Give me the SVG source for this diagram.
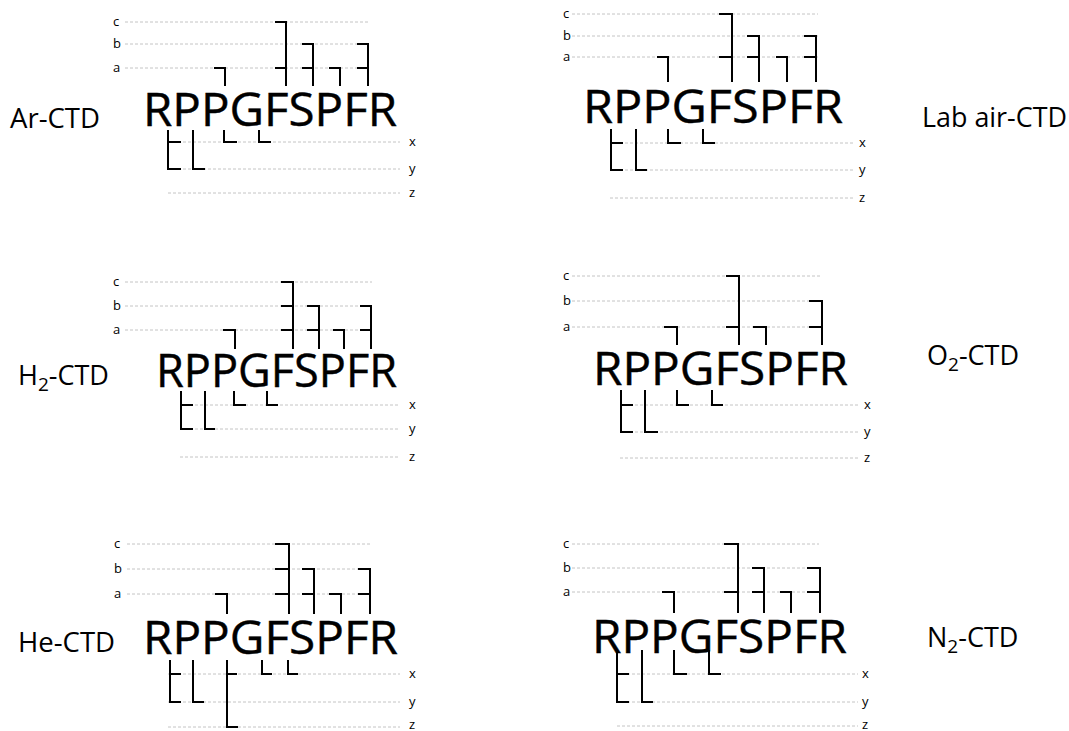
<svg xmlns="http://www.w3.org/2000/svg" width="1069" height="731" viewBox="0 0 1069 731">
<style>
.g{stroke:#c4c4c4;stroke-width:1;stroke-dasharray:3 2;fill:none}
.k{stroke:#000;stroke-width:2;fill:none}
text{font-family:"Open Sans","Liberation Sans",sans-serif;fill:#000}
.seq{font-size:45px;stroke:#000;stroke-width:0.4}
.lab{font-size:27px}
.sub{font-size:19px}
.s{font-size:13px;fill:#333}
</style>
<rect width="1069" height="731" fill="#fff"/>

<g id="ar">
  <g class="g"><path d="M125,22H370M125,44H370M125,68H370M168,142H400M168,169H400M168,193H400"/></g>
  <g class="s"><text x="113" y="26">c</text><text x="113" y="48">b</text><text x="113" y="72">a</text><text x="409" y="146">x</text><text x="409" y="173">y</text><text x="409" y="197">z</text></g>
  <text class="seq" x="143" y="126" textLength="254" lengthAdjust="spacingAndGlyphs">RPPGFSPFR</text>
  <g class="k"><path d="M214,68H225V86M275,22H286V86M275,68H286M302,44H313V86M302,68H313M329,68H340V86M357,44H368V86M357,68H368"/>
  <path d="M168,130V169H181M168,142H181M193,130V169H205M224,130V142H237M259,130V142H271"/></g>
  <text class="lab" x="10" y="128" textLength="90" lengthAdjust="spacingAndGlyphs">Ar-CTD</text>
</g>

<g id="labair">
  <g class="g"><path d="M572,14H818M572,36H818M572,57H818M610,143H853M610,170H853M610,198H853"/></g>
  <g class="s"><text x="563" y="18">c</text><text x="563" y="40">b</text><text x="563" y="61">a</text><text x="859" y="147">x</text><text x="859" y="174">y</text><text x="859" y="202">z</text></g>
  <text class="seq" x="583" y="123" textLength="260" lengthAdjust="spacingAndGlyphs">RPPGFSPFR</text>
  <g class="k"><path d="M657,57H668V82M719,14H732V82M719,57H732M747,36H759V82M747,57H759M776,57H787V82M804,36H816V82M804,57H816"/>
  <path d="M611,129V170H623M611,143H623M636,129V170H647M668,129V143H681M703,129V143H715"/></g>
  <text class="lab" x="922" y="127" textLength="145" lengthAdjust="spacingAndGlyphs">Lab air-CTD</text>
</g>

<g id="h2">
  <g class="g"><path d="M125,282H372M125,306H372M125,330H372M180,405H400M180,429H400M180,457H400"/></g>
  <g class="s"><text x="113" y="286">c</text><text x="113" y="310">b</text><text x="113" y="334">a</text><text x="409" y="409">x</text><text x="409" y="433">y</text><text x="409" y="461">z</text></g>
  <text class="seq" x="156" y="387" textLength="241" lengthAdjust="spacingAndGlyphs">RPPGFSPFR</text>
  <g class="k"><path d="M223,330H235V349M281,282H293V349M281,306H293M281,330H293M307,306H319V349M307,330H319M333,330H344V349M360,306H371V349M360,330H371"/>
  <path d="M181,391V429H193M181,405H193M205,391V429H215M234,391V405H246M267,391V405H278"/></g>
  <text class="lab" x="18" y="385">H<tspan class="sub" dy="6">2</tspan><tspan dy="-6">-CTD</tspan></text>
</g>

<g id="o2">
  <g class="g"><path d="M572,276H820M572,301H820M572,327H820M620,405H858M620,432H858M620,458H858"/></g>
  <g class="s"><text x="563" y="280">c</text><text x="563" y="305">b</text><text x="563" y="331">a</text><text x="864" y="409">x</text><text x="864" y="436">y</text><text x="864" y="462">z</text></g>
  <text class="seq" x="593" y="385" textLength="255" lengthAdjust="spacingAndGlyphs">RPPGFSPFR</text>
  <g class="k"><path d="M664,327H677V345M726,276H739V345M726,327H739M753,327H766V345M809,301H822V345M809,327H822"/>
  <path d="M621,390V432H633M621,405H633M645,390V432H658M677,390V405H689M712,390V405H723"/></g>
  <text class="lab" x="927" y="365">O<tspan class="sub" dy="6">2</tspan><tspan dy="-6">-CTD</tspan></text>
</g>

<g id="he">
  <g class="g"><path d="M127,544H370M127,569H370M127,594H370M168,674H400M168,702H400M168,727H400"/></g>
  <g class="s"><text x="114" y="548">c</text><text x="114" y="573">b</text><text x="114" y="598">a</text><text x="409" y="678">x</text><text x="409" y="706">y</text><text x="409" y="729">z</text></g>
  <text class="seq" x="143" y="654" textLength="255" lengthAdjust="spacingAndGlyphs">RPPGFSPFR</text>
  <g class="k"><path d="M215,594H227V614M275,544H289V614M275,569H289M275,594H289M302,569H314V614M302,594H314M329,594H341V614M358,569H370V614M358,594H370"/>
  <path d="M170,660V702H181M170,674H181M193,660V702H204M227,660V727H238M227,674H237M262,660V674H272M288,660V674H298"/></g>
  <text class="lab" x="18" y="652" textLength="97" lengthAdjust="spacingAndGlyphs">He-CTD</text>
</g>

<g id="n2">
  <g class="g"><path d="M572,544H819M572,568H819M572,592H819M617,674H858M617,702H858M617,726H858"/></g>
  <g class="s"><text x="563" y="548">c</text><text x="563" y="572">b</text><text x="563" y="596">a</text><text x="862" y="678">x</text><text x="862" y="706">y</text><text x="862" y="729">z</text></g>
  <text class="seq" x="592" y="653" textLength="255" lengthAdjust="spacingAndGlyphs">RPPGFSPFR</text>
  <g class="k"><path d="M662,592H674V613M724,544H738V613M724,592H738M752,568H764V613M752,592H764M780,592H791V613M807,568H820V613M807,592H820"/>
  <path d="M617,650V702H629M617,674H629M642,650V702H653M674,650V674H687M709,650V674H721"/></g>
  <text class="lab" x="927" y="647">N<tspan class="sub" dy="6">2</tspan><tspan dy="-6">-CTD</tspan></text>
</g>
</svg>
